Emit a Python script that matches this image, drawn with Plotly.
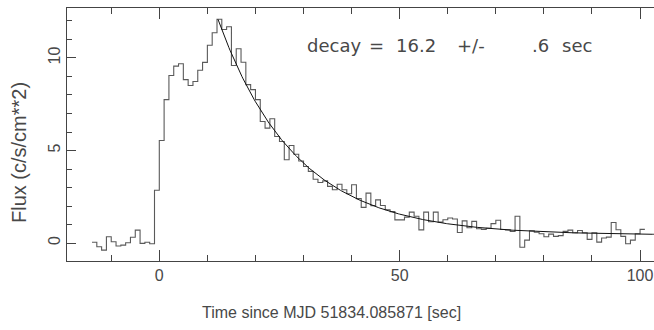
import numpy as np
import plotly.graph_objects as go

# Light-curve histogram: 1-second bins, left edges from -14 s
bin_start = -14
bin_width = 1
flux = [
    0.04, -0.20, -0.38, 0.34, 0.07, -0.16, -0.11, 0.02, 0.31, 0.70, -0.02, 0.04, -0.04, 2.85,
    5.54, 7.75, 9.05, 9.56, 9.69, 8.83, 8.51, 8.73, 9.34, 9.76, 10.69, 11.36,
    12.09, 11.54, 11.69, 9.59, 10.50, 9.77, 8.56, 8.29, 7.75, 6.57, 6.21, 6.72, 5.76, 5.49, 4.50, 5.27,
    4.80, 4.43, 4.14, 3.87, 3.45, 3.27, 3.36, 3.06, 2.88, 3.18, 2.88, 2.66, 3.15, 2.40, 1.93, 2.70,
    2.02, 2.33, 2.03, 1.80, 1.70, 1.25, 1.25, 1.40, 1.67, 1.45, 0.71, 1.67, 1.15, 1.67, 1.13, 1.26,
    1.35, 1.30, 0.57, 1.20, 0.83,
    1.17, 0.77, 0.74, 0.80, 1.05, 1.23, 0.73, 0.71, 0.63, 1.45, -0.23, 0.16, 0.66, 0.58, 0.50, 0.34,
    0.48, 0.36, 0.40, 0.63, 0.70, 0.56, 0.68, 0.56, 0.20, 0.56, 0.05, 0.27, 0.32, 1.11, 0.72, 0.36,
    -0.04, 0.16, 0.50, 0.74,
]

# Exponential decay fit parameters
fit_t0 = 12.2
fit_amp = 11.66
fit_tau = 16.2
fit_const = 0.43
fit_tend = 103.0

x_range = [-19.2, 102.9]
y_range = [-0.97, 12.7]

x_title = "Time since MJD 51834.085871 [sec]"
y_title = "Flux (c/s/cm**2)"
decay_words = ["decay", "=", "16.2", "+/-", ".6", "sec"]
decay_left_px = [305, 367, 394, 455, 530, 560]

edges = [bin_start + i * bin_width for i in range(len(flux) + 1)]
ys = flux + [flux[-1]]

t_fit = np.linspace(fit_t0, fit_tend, 400)
f_fit = fit_const + fit_amp * np.exp(-(t_fit - fit_t0) / fit_tau)

FONT = "Liberation Sans"
FONT2 = "DejaVu Sans"
TXT = "#484848"
W, H = 654, 330
ML, MR, MT, MB = 67, 0, 8, 69
PW, PH = W - ML - MR, H - MT - MB


def px(xp):
    return (xp - ML) / PW


def py(yp):
    return (H - MB - yp) / PH


ann = []
for word, left in zip(decay_words, decay_left_px):
    ann.append(dict(xref="paper", yref="paper", x=px(left), y=py(45), xanchor="left", yanchor="middle",
                    showarrow=False, text=word, font=dict(family=FONT2, size=18, color=TXT)))
ann.append(dict(xref="paper", yref="paper", x=px(331), y=py(312), xanchor="center", yanchor="middle",
                showarrow=False, text=x_title, font=dict(family=FONT, size=16, color=TXT)))
ann.append(dict(xref="paper", yref="paper", x=px(19), y=py(153), xanchor="center", yanchor="middle",
                showarrow=False, text=y_title, textangle=-90, font=dict(family=FONT, size=20, color=TXT)))

fig = go.Figure()
fig.add_trace(go.Scatter(x=edges, y=ys, mode="lines", line=dict(shape="hv", color="#5a5a5a", width=1.1),
                         hoverinfo="skip", showlegend=False))
fig.add_trace(go.Scatter(x=t_fit, y=f_fit, mode="lines", line=dict(color="#111111", width=1),
                         hoverinfo="skip", showlegend=False))

fig.update_layout(
    width=W, height=H,
    margin=dict(l=ML, r=MR, t=MT, b=MB),
    paper_bgcolor="white", plot_bgcolor="white",
    font=dict(family=FONT, size=15, color=TXT),
    showlegend=False,
    annotations=ann,
)
fig.update_xaxes(
    range=x_range, showgrid=False, zeroline=False,
    showline=True, linecolor="#444444", linewidth=1, mirror="ticks",
    ticks="inside", ticklen=11, tickcolor="#444444", tickwidth=1,
    tick0=0, dtick=50, tickfont=dict(size=16, color=TXT),
    minor=dict(ticks="inside", dtick=10, tick0=0, ticklen=6, tickcolor="#444444", showgrid=False),
)
fig.update_yaxes(
    range=y_range, showgrid=False, zeroline=False,
    showline=True, linecolor="#444444", linewidth=1, mirror=False,
    ticks="inside", ticklen=9, tickcolor="#444444", tickwidth=1,
    tick0=0, dtick=5, tickangle=-90, tickfont=dict(size=16, color=TXT),
    minor=dict(ticks="inside", dtick=1, tick0=0, ticklen=5, tickcolor="#444444", showgrid=False),
)

fig.write_html("out.html")
